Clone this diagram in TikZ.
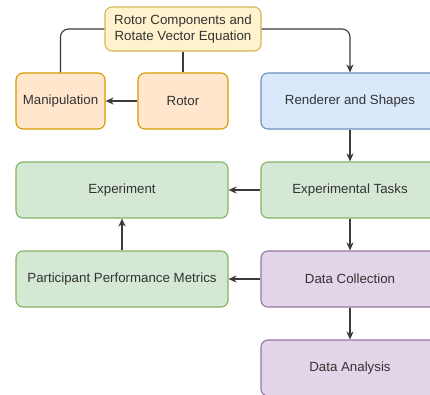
\documentclass[tikz,border=0pt]{standalone}
\usepackage{fontspec}
\setmainfont{Liberation Sans}
\usetikzlibrary{arrows.meta}
\definecolor{txt}{HTML}{333333}
\definecolor{wire}{HTML}{3A3A3A}
\definecolor{yelF}{HTML}{FFF2CC}\definecolor{yelD}{HTML}{D6B656}
\definecolor{orF}{HTML}{FFE6CC}\definecolor{orD}{HTML}{D79B00}
\definecolor{blF}{HTML}{DAE8FC}\definecolor{blD}{HTML}{6C8EBF}
\definecolor{grF}{HTML}{D5E8D4}\definecolor{grD}{HTML}{82B366}
\definecolor{puF}{HTML}{E1D5E7}\definecolor{puD}{HTML}{9673A6}
\tikzset{
  box/.style={rectangle, rounded corners=7pt, line width=1.1pt, inner sep=0pt,
    text=txt, align=center, font=\fontsize{13.3}{16}\selectfont},
  yelbox/.style={box, fill=yelF, draw=yelD},
  orbox/.style={box, fill=orF, draw=orD},
  blbox/.style={box, fill=blF, draw=blD},
  grbox/.style={box, fill=grF, draw=grD},
  pubox/.style={box, fill=puF, draw=puD},
  link/.style={line width=1.1pt, draw=wire, rounded corners=8pt},
  flow/.style={link, -{Stealth[length=8pt,width=7pt,inset=2.5pt]}}
}
\begin{document}
\begin{tikzpicture}[x=1pt,y=-1pt]
\useasboundingbox (0,0) rectangle (430,394);
\clip (0,0) rectangle (430,394);
\fill[white] (0,0) rectangle (430,394);

% left branch
\node[yelbox, minimum width=156pt, minimum height=44pt] (rc) at (183,29)
  {Rotor Components and\\Rotate Vector Equation};
\node[orbox, minimum width=89pt, minimum height=56pt] (man) at (60.5,101) {Manipulation};
\node[orbox, minimum width=90pt, minimum height=56pt] (rot) at (183,101) {Rotor};
\node[grbox, minimum width=212pt, minimum height=56pt] (exp) at (122,190) {Experiment};
\node[grbox, minimum width=212pt, minimum height=56pt] (ppm) at (122,279) {Participant Performance Metrics};

% right column
\node[blbox, minimum width=178pt, minimum height=56pt] (ren) at (350,101) {Renderer and Shapes};
\node[grbox, minimum width=178pt, minimum height=56pt] (task) at (350,190) {Experimental Tasks};
\node[pubox, minimum width=178pt, minimum height=56pt] (dc) at (350,279) {Data Collection};
\node[pubox, minimum width=178pt, minimum height=56pt] (da) at (350,368) {Data Analysis};

% connectors
\draw[link] (rc.west) -| (man.north);
\draw[link] (rc.south) -- (rot.north);
\draw[flow] (rot.west) -- (man.east);
\draw[flow] (rc.east) -| (ren.north);
\draw[flow] (ren.south) -- (task.north);
\draw[flow] (task.west) -- (exp.east);
\draw[flow] (task.south) -- (dc.north);
\draw[flow] (dc.west) -- (ppm.east);
\draw[flow] (ppm.north) -- (exp.south);
\draw[flow] (dc.south) -- (da.north);
\end{tikzpicture}
\end{document}
